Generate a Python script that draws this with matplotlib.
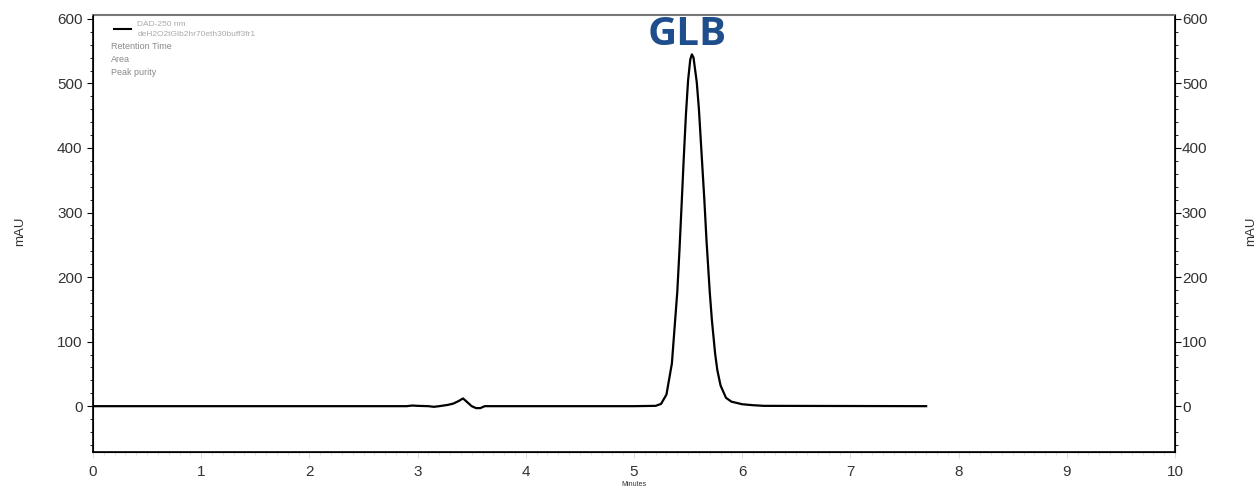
import matplotlib
matplotlib.use("Agg")
import matplotlib.pyplot as plt
from matplotlib.ticker import MultipleLocator

plt.rcParams['font.family'] = ['Liberation Sans', 'DejaVu Sans']

# chromatogram (DAD-250 nm)
minutes = [0.0, 2.9, 2.95, 3.0, 3.1, 3.15, 3.2, 3.28, 3.33, 3.38, 3.42, 3.46,
           3.5, 3.54, 3.58, 3.62, 5.0, 5.2, 5.25, 5.3, 5.35, 5.4, 5.42, 5.44,
           5.46, 5.48, 5.5, 5.52, 5.535, 5.55, 5.58, 5.6, 5.62, 5.65, 5.67,
           5.7, 5.72, 5.75, 5.77, 5.8, 5.85, 5.9, 6.0, 6.1, 6.2, 7.7]
mau = [0.0, 0.0, 1.0, 0.5, 0.0, -1.0, 0.0, 2.0, 4.0, 8.0, 12.0, 6.0,
       0.0, -3.0, -3.0, 0.0, 0.0, 0.5, 3.5, 18.0, 66.0, 177.0, 241.0, 312.0,
       385.0, 452.0, 505.0, 537.0, 545.0, 540.0, 502.0, 460.0, 404.0, 320.0, 257.0,
       177.0, 133.0, 81.0, 56.0, 32.0, 13.0, 7.0, 3.0, 1.5, 0.5, 0.0]

legend_lines = ["Retention Time", "Area", "Peak purity"]
peak_name = "GLB"

fig = plt.figure(figsize=(12.58, 4.9), dpi=100)
ax = fig.add_axes([93 / 1258, 1 - 452 / 490, (1175 - 93) / 1258, (452 - 15) / 490])
ax.plot(minutes, mau, color='black', lw=1.6)
ax.set_xlim(0, 10)
ax.set_ylim(-71, 606)

ax.xaxis.set_major_locator(MultipleLocator(1))
ax.xaxis.set_minor_locator(MultipleLocator(0.1))
ax.yaxis.set_major_locator(MultipleLocator(100))
ax.yaxis.set_minor_locator(MultipleLocator(20))
ax.tick_params(axis='both', labelsize=11, labelcolor='#333333')
ax.tick_params(axis='x', which='major', length=4, color='#dddddd', pad=5)
ax.tick_params(axis='x', which='minor', length=2, color='#dddddd')
ax.tick_params(axis='y', which='major', length=4, color='black')
ax.tick_params(axis='y', which='minor', length=2, color='black')
ax.spines['top'].set_color('#777777')
ax.spines['top'].set_linewidth(1.5)
for s in ['left', 'bottom', 'right']:
    ax.spines[s].set_linewidth(1.2)

ax2 = ax.twinx()
ax2.set_ylim(ax.get_ylim())
ax2.yaxis.set_major_locator(MultipleLocator(100))
ax2.yaxis.set_minor_locator(MultipleLocator(20))
ax2.tick_params(axis='y', labelsize=11, labelcolor='#333333', length=4, pad=1)
ax2.tick_params(axis='y', which='minor', length=2)
ax2.spines['top'].set_visible(False)

fig.text(20 / 1258, 1 - 231 / 490, "mAU", rotation=90, ha='center', va='center',
         fontsize=9.5, color='#333333')
fig.text(1251 / 1258, 1 - 231 / 490, "mAU", rotation=90, ha='center', va='center',
         fontsize=9.5, color='#333333')
fig.text(634 / 1258, 1 - 484 / 490, "Minutes", ha='center', va='center',
         fontsize=5, color='#333333')

# legend block, top left
ax.plot([0.19, 0.35], [585, 585], color='black', lw=1.5)
ax.text(0.41, 592, "DAD-250 nm", fontsize=6, color='#aaaaaa', va='center')
ax.text(0.41, 576, "deH2O2tGlb2hr70eth30buff3fr1", fontsize=6, color='#aaaaaa', va='center')
for i, t in enumerate(legend_lines):
    ax.text(0.17, 557 - i * 20, t, fontsize=6.5, color='#888888', va='center')

ax.text(5.49, 576, peak_name, fontsize=29, fontweight='bold', color='#1f4e8c',
        ha='center', va='center', family=['Open Sans', 'DejaVu Sans'])

fig.savefig("out.png", dpi=100)
